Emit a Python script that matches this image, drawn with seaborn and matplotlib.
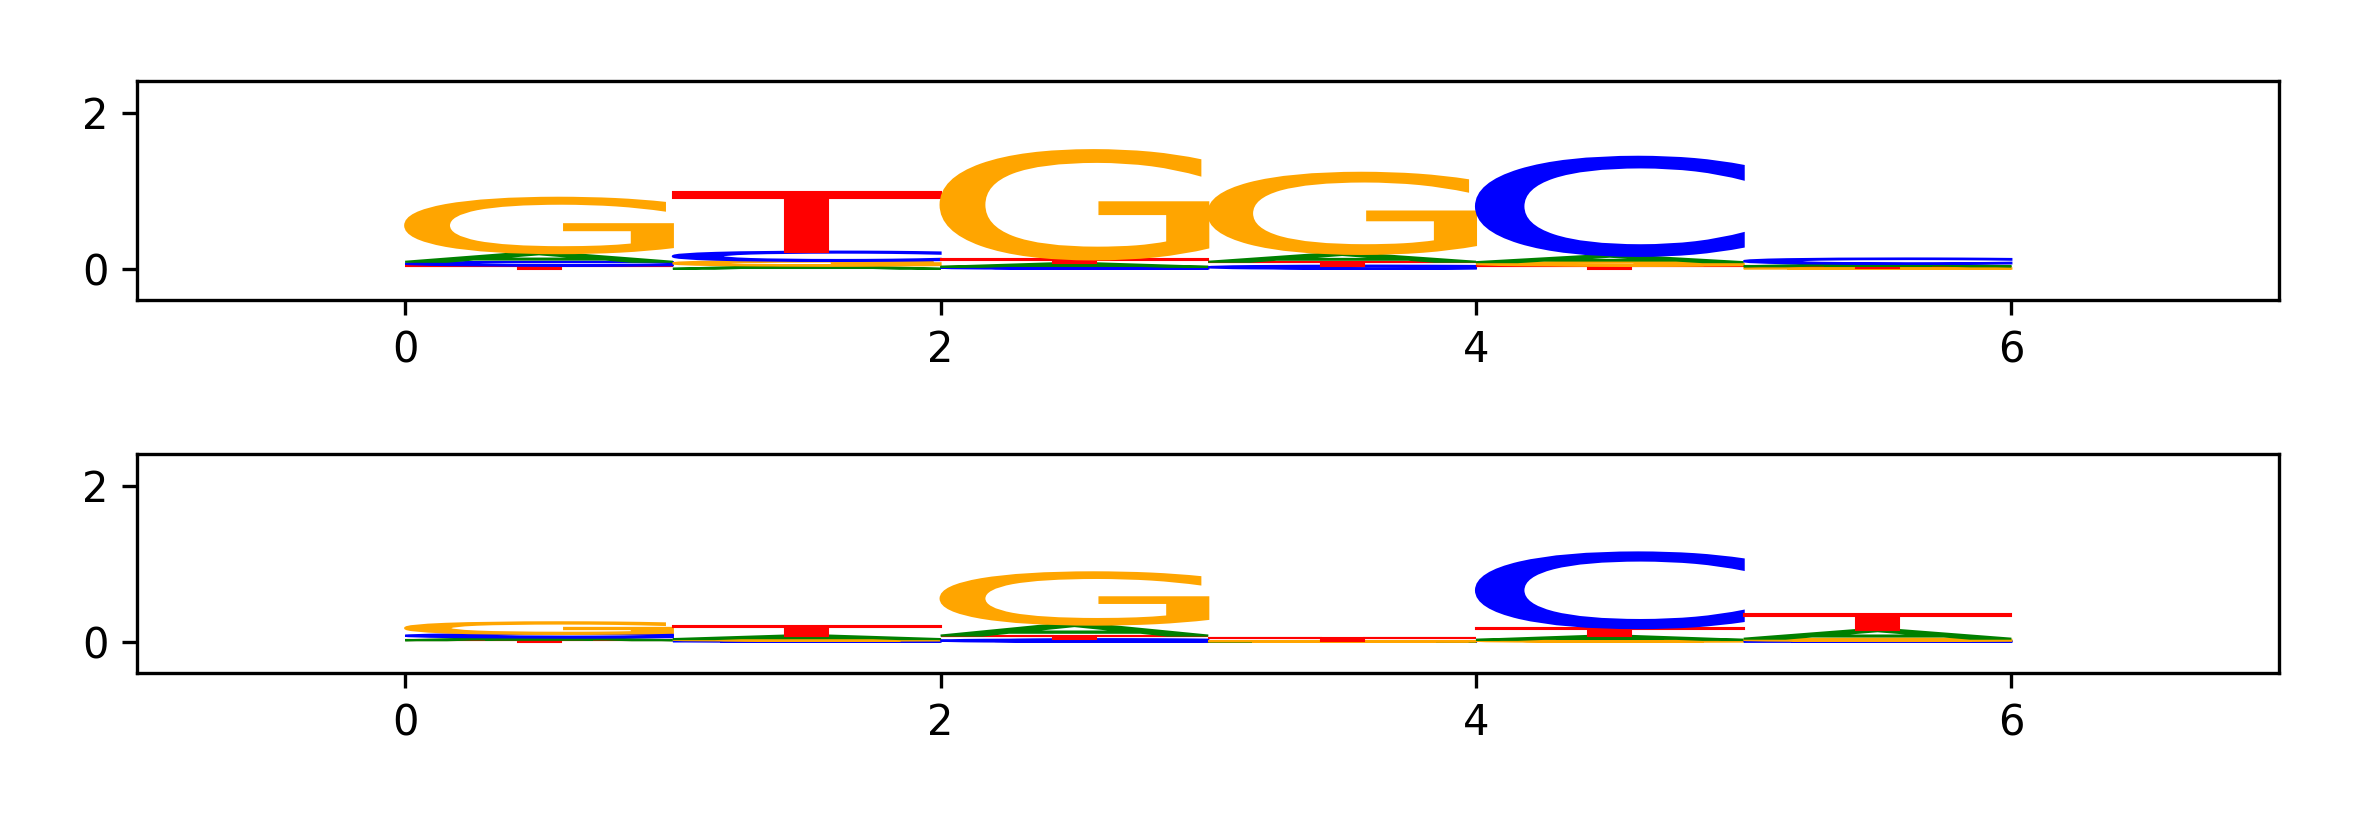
import numpy as np
import pandas as pd
import matplotlib
matplotlib.use("Agg")
import matplotlib.pyplot as plt
import seaborn as sns
from matplotlib.textpath import TextPath
from matplotlib.patches import PathPatch
from matplotlib.font_manager import FontProperties
from matplotlib.transforms import Affine2D

# letter heights per position (bits)
bases = ["A", "C", "G", "T"]
positions = [0, 1, 2, 3, 4, 5]

top_A = [0.11, 0.04, 0.045, 0.10, 0.08, 0.03]
top_C = [0.05, 0.12, 0.025, 0.04, 1.27, 0.07]
top_G = [0.71, 0.06, 1.40, 1.04, 0.045, 0.012]
top_T = [0.04, 0.77, 0.05, 0.05, 0.04, 0.02]

bot_A = [0.035, 0.045, 0.14, 0.003, 0.05, 0.11]
bot_C = [0.045, 0.015, 0.03, 0.002, 0.97, 0.01]
bot_G = [0.15, 0.02, 0.67, 0.005, 0.025, 0.03]
bot_T = [0.02, 0.12, 0.05, 0.045, 0.10, 0.20]

colors = {"A": "green", "C": "blue", "G": "orange", "T": "red"}

sns.set_style("ticks", {"axes.edgecolor": "black", "xtick.color": "black",
                        "ytick.color": "black", "text.color": "black"})
plt.rcParams["font.family"] = ["DejaVu Sans"]

fp = FontProperties(family="DejaVu Sans")
glyphs = {}
for b in bases:
    p = TextPath((0, 0), b, size=1, prop=fp)
    ext = p.get_extents()
    # normalise each glyph to the unit square
    glyphs[b] = Affine2D().translate(-ext.x0, -ext.y0).scale(1 / ext.width, 1 / ext.height).transform_path(p)


def draw_logo(ax, df):
    for pos, row in df.iterrows():
        y = 0.0
        for b, h in row.sort_values().items():
            path = Affine2D().scale(1.0, h).translate(pos, y).transform_path(glyphs[b])
            ax.add_patch(PathPatch(path, facecolor=colors[b], edgecolor=colors[b], lw=0.5))
            y += h
    ax.set_xlim(-1, 7)
    ax.set_ylim(-0.4, 2.4)
    ax.set_xticks([0, 2, 4, 6])
    ax.set_yticks([0, 2])


top = pd.DataFrame({"A": top_A, "C": top_C, "G": top_G, "T": top_T}, index=positions)
bot = pd.DataFrame({"A": bot_A, "C": bot_C, "G": bot_G, "T": bot_T}, index=positions)

fig = plt.figure(figsize=(2362 / 300, 826 / 300), dpi=300)
ax1 = fig.add_axes([0.0582, 0.6368, 0.9067, 0.2646])
ax2 = fig.add_axes([0.0582, 0.1852, 0.9067, 0.2646])
draw_logo(ax1, top)
draw_logo(ax2, bot)

fig.savefig("out.png", dpi=300)
